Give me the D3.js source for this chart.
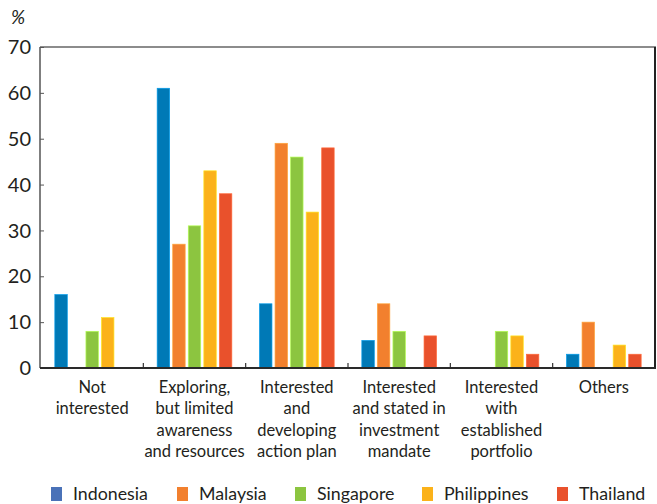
<!DOCTYPE html>
<html><head><meta charset="utf-8">
<script src="https://cdn.jsdelivr.net/npm/d3@7"></script>
<style>body{margin:0;background:#fff;}svg{display:block;font-family:Lato,"Open Sans",sans-serif;}</style>
</head><body><svg id="c" width="657" height="504"></svg>
<script>
const categories = ["Not interested","Exploring, but limited awareness and resources","Interested and developing action plan","Interested and stated in investment mandate","Interested with established portfolio","Others"];
const categoryLines = [["Not","interested"],["Exploring,","but limited","awareness","and resources"],["Interested","and","developing","action plan"],["Interested","and stated in","investment","mandate"],["Interested","with","established","portfolio"],["Others"]];
const seriesNames = ["Indonesia","Malaysia","Singapore","Philippines","Thailand"];
const indonesia   = [16, 61, 14, 6, 0, 3];
const malaysia    = [0, 27, 49, 14, 0, 10];
const singapore   = [8, 31, 46, 8, 8, 0];
const philippines = [11, 43, 34, 0, 7, 5];
const thailand    = [0, 38, 48, 7, 3, 3];
const yTicks = [0,10,20,30,40,50,60,70];
const barColors = ["#0079b6","#f2802e","#8cc540","#fbb21a","#e9512c"];
const legendColors = ["#4a72b8","#f2802e","#8cc540","#fbb21a","#e9512c"];

const seriesValues = [indonesia, malaysia, singapore, philippines, thailand];
const svg = d3.select("#c");
const L = 41, R = 655, T = 47, B = 368;
const x0 = d3.scaleBand().domain(categories).range([L, R]).padding(0);
const x1 = d3.scaleBand().domain(seriesNames).range([0, x0.bandwidth()]).paddingInner(0.2).paddingOuter(0.89);
const y = d3.scaleLinear().domain([0,70]).range([B, T]);

// bars
categories.forEach((cat, ci) => {
  const g = svg.append("g").attr("transform", `translate(${x0(cat)},0)`);
  seriesNames.forEach((s, si) => {
    const v = seriesValues[si][ci];
    if (v <= 0) return;
    g.append("rect")
      .attr("x", x1(s)).attr("width", x1.bandwidth())
      .attr("y", y(v)).attr("height", y(0) - y(v))
      .attr("fill", barColors[si])
      .attr("stroke", d3.color(barColors[si]).brighter(0.7))
      .attr("stroke-width", 0.7);
  });
});

// frame
svg.append("line").attr("x1", L-1).attr("x2", R+1).attr("y1", T).attr("y2", T).attr("stroke", "#666").attr("stroke-width", 1.5);
svg.append("line").attr("x1", R).attr("x2", R).attr("y1", T).attr("y2", B).attr("stroke", "#222").attr("stroke-width", 2);
svg.append("line").attr("x1", L-1).attr("x2", L-1).attr("y1", T).attr("y2", B).attr("stroke", "#555").attr("stroke-width", 1.5);

// y axis ticks & labels
const yAxis = d3.axisRight(y).tickValues(yTicks).tickSize(4).tickFormat("");
svg.append("g").attr("transform", `translate(${L-1},0)`).call(yAxis).call(g => { g.select(".domain").remove(); g.selectAll("line").attr("stroke","#555"); });
svg.append("g").selectAll("text").data(yTicks).join("text")
  .attr("x", 31).attr("y", d => y(d)).attr("dy", "0.36em")
  .attr("text-anchor", "end").attr("font-size", 20).attr("fill", "#231f20")
  .text(d => d);
svg.append("text").attr("x", 11).attr("y", 24).attr("font-size", 19).attr("font-style", "italic").attr("fill", "#231f20").text("%");

// x axis (bottom) with group boundary ticks
const bounds = categories.slice(1).map(c => x0(c));
svg.append("g").selectAll("line").data(bounds).join("line")
  .attr("x1", d => d).attr("x2", d => d).attr("y1", B).attr("y2", B-5)
  .attr("stroke", "#333").attr("stroke-width", 1.2);
svg.append("line").attr("x1", L-1).attr("x2", R+1).attr("y1", B).attr("y2", B).attr("stroke", "#2a2a2a").attr("stroke-width", 2);

// category labels
categories.forEach((cat, ci) => {
  const t = svg.append("text").attr("text-anchor", "middle").attr("font-size", 16.5).attr("fill", "#231f20");
  categoryLines[ci].forEach((ln, li) => {
    t.append("tspan").attr("x", x0(cat) + x0.bandwidth()/2).attr("y", 393 + li*21.4).text(ln);
  });
});

// legend
const legendX = [51, 177, 295, 422, 557];
seriesNames.forEach((s, i) => {
  svg.append("rect").attr("x", legendX[i]).attr("y", 487).attr("width", 11).attr("height", 14).attr("fill", legendColors[i]);
  svg.append("text").attr("x", legendX[i] + 22).attr("y", 500).attr("font-size", 17.8).attr("fill", "#231f20").text(s);
});
</script></body></html>
